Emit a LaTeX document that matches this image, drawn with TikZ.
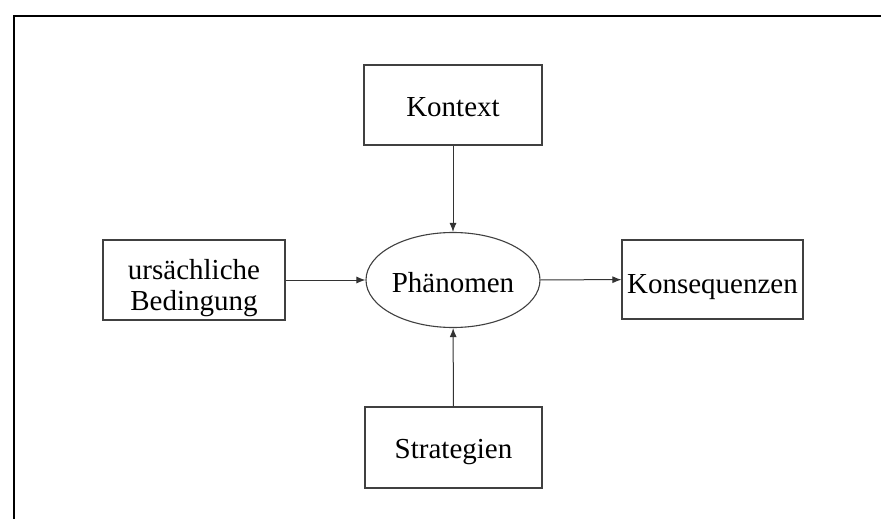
\documentclass[tikz,border=0pt]{standalone}
\usepackage{fontspec}
\setmainfont{Liberation Serif}
\usetikzlibrary{arrows.meta,shapes.geometric}
\begin{document}
\begin{tikzpicture}[x=1pt,y=-1pt,
  boxnode/.style={draw=black!75,line width=1.1pt,rectangle,inner sep=0pt,align=center,font=\fontsize{29}{31}\selectfont},
  ellnode/.style={draw=black!75,line width=1.1pt,ellipse,inner sep=0pt,font=\fontsize{29}{31}\selectfont},
  conn/.style={draw=black!80,line width=1pt,-{Latex[length=9pt,width=7pt]}}]
\useasboundingbox (0,0) rectangle (881,519);
\fill[white] (0,0) rectangle (881,519);
\draw[line width=2pt,black] (14,519) -- (14,16) -- (881,16);
\node[boxnode,minimum width=178pt,minimum height=80pt,text height=24pt,text depth=0pt] (kontext) at (453,105) {Kontext};
\node[ellnode,minimum width=174pt,minimum height=95pt,text height=24pt,text depth=0pt] (phaen) at (453,280) {Phänomen};
\node[boxnode,minimum width=182pt,minimum height=80pt,text height=67pt,text depth=6pt] (urs) at (194,280) {ursächliche\\Bedingung};
\node[boxnode,minimum width=181pt,minimum height=79pt,text height=33.3pt,text depth=6.3pt] (kons) at (712.5,279.5) {Konsequenzen};
\node[boxnode,minimum width=177pt,minimum height=81pt,text height=27.3pt,text depth=6.3pt] (strat) at (453.5,447.5) {Strategien};
\draw[conn] (kontext) -- (phaen);
\draw[conn] (urs) -- (phaen);
\draw[conn] (phaen) -- (kons);
\draw[conn] (strat) -- (phaen);
\end{tikzpicture}
\end{document}
